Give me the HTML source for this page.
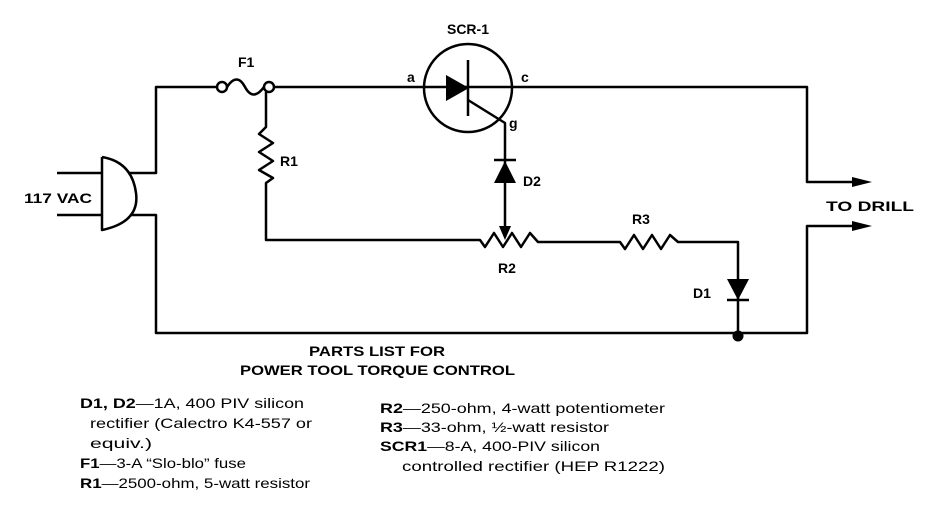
<!DOCTYPE html>
<html><head><meta charset="utf-8"><style>
html,body{margin:0;padding:0;background:#fff;}
svg{display:block;}
text{font-family:"Liberation Sans",sans-serif;fill:#000;}
.l{font-weight:bold;font-size:14px;}
.p{font-size:14px;}
</style></head><body>
<svg width="933" height="519" viewBox="0 0 933 519" xmlns="http://www.w3.org/2000/svg">
<g fill="none" stroke="#000" stroke-width="2.5" stroke-linejoin="round">
<!-- plug -->
<line x1="57" y1="173" x2="102" y2="173"/>
<line x1="57" y1="215" x2="102" y2="215"/>
<path d="M102 157 L102 230 Q140 222 136 193 Q132 162 102 157"/>
<polyline points="128,173 156,173 156,87 217,87"/>
<polyline points="130,215 156,215 156,333 738,333 807,333 807,226 860,226"/>
<!-- fuse -->
<circle cx="222" cy="87" r="5"/>
<circle cx="269" cy="87" r="5"/>
<path d="M227 87 Q237 72 245 87 Q253 102 264 87"/>
<!-- top wire -->
<polyline points="274,87 807,87 807,182 860,182"/>
<!-- SCR -->
<circle cx="468" cy="88" r="44"/>
<line x1="468" y1="60" x2="468" y2="116"/>
<polyline points="468,100 505,123 505,237"/>
<!-- D2 -->
<line x1="494" y1="160" x2="516" y2="160"/>
<!-- R1 -->
<polyline points="266,92 266,127 259,134 273,143 259,152 273,161 259,170 273,178 266,183 266,240 480,240 485,247 494,233 503,247 512,233 521,247 530,233 538,242 620,242 625,249 634,235 643,249 652,235 661,249 670,235 678,242 738,242 738,336"/>
<line x1="727" y1="300" x2="749" y2="300"/>
</g>
<g fill="#000">
<polygon points="446,75 446,101 469,88"/>
<polygon points="494,183 516,183 505,161"/>
<polygon points="499,226 511,226 505,240"/>
<polygon points="727,279 749,279 738,300"/>
<circle cx="738" cy="336" r="5.5"/>
<polygon points="852,177 872,182 852,187"/>
<polygon points="852,221 872,226 852,231"/>
</g>
<text class="l" x="468" y="34" text-anchor="middle">SCR-1</text>
<text class="l" x="238" y="67">F1</text>
<text class="l" x="407" y="82">a</text>
<text class="l" x="521" y="82">c</text>
<text class="l" x="509" y="128">g</text>
<text class="l" x="280" y="166">R1</text>
<text class="l" x="523" y="186">D2</text>
<text class="l" x="498" y="273">R2</text>
<text class="l" x="632" y="224">R3</text>
<text class="l" x="693" y="298">D1</text>
<text class="l" x="24" y="203" textLength="68" lengthAdjust="spacingAndGlyphs">117 VAC</text>
<text class="l" x="826" y="211" textLength="88" lengthAdjust="spacingAndGlyphs">TO DRILL</text>
<text class="l" x="309" y="356" textLength="136" lengthAdjust="spacingAndGlyphs">PARTS LIST FOR</text>
<text class="l" x="240" y="375" textLength="275" lengthAdjust="spacingAndGlyphs">POWER TOOL TORQUE CONTROL</text>
<text class="p" x="80" y="408" textLength="224" lengthAdjust="spacingAndGlyphs"><tspan font-weight="bold">D1, D2</tspan>—1A, 400 PIV silicon</text>
<text class="p" x="90" y="428" textLength="222" lengthAdjust="spacingAndGlyphs">rectifier (Calectro K4-557 or</text>
<text class="p" x="90" y="448" textLength="62" lengthAdjust="spacingAndGlyphs">equiv.)</text>
<text class="p" x="80" y="468" textLength="166" lengthAdjust="spacingAndGlyphs"><tspan font-weight="bold">F1</tspan>—3-A “Slo-blo” fuse</text>
<text class="p" x="80" y="488" textLength="230" lengthAdjust="spacingAndGlyphs"><tspan font-weight="bold">R1</tspan>—2500-ohm, 5-watt resistor</text>
<text class="p" x="380" y="413" textLength="285" lengthAdjust="spacingAndGlyphs"><tspan font-weight="bold">R2</tspan>—250-ohm, 4-watt potentiometer</text>
<text class="p" x="380" y="432" textLength="229" lengthAdjust="spacingAndGlyphs"><tspan font-weight="bold">R3</tspan>—33-ohm, ½-watt resistor</text>
<text class="p" x="380" y="451" textLength="220" lengthAdjust="spacingAndGlyphs"><tspan font-weight="bold">SCR1</tspan>—8-A, 400-PIV silicon</text>
<text class="p" x="402" y="471" textLength="263" lengthAdjust="spacingAndGlyphs">controlled rectifier (HEP R1222)</text>
</svg>
</body></html>
